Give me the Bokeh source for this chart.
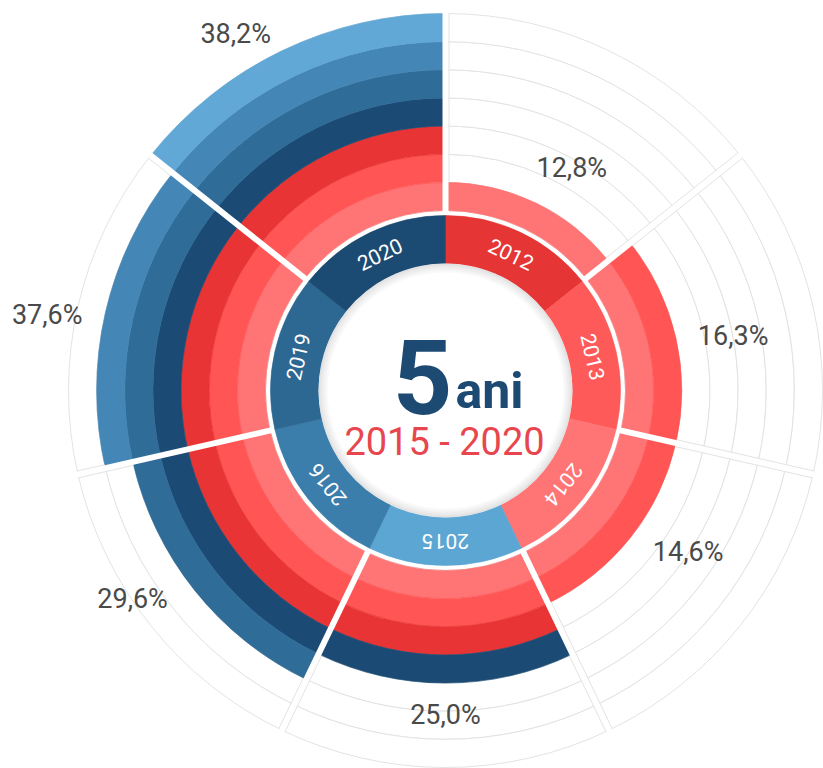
import math
from bokeh.plotting import figure
from bokeh.models import Range1d, ColumnDataSource
from bokeh.embed import file_html
from bokeh.resources import INLINE
from bokeh.core.properties import value

# ---------------- data ----------------
years = ["2012", "2013", "2014", "2015", "2016", "2019", "2020"]
values = [12.8, 16.3, 14.6, 25.0, 29.6, 37.6, 38.2]
levels = [1, 2, 2, 4, 5, 6, 7]          # filled rings per year
year_colors = ["#e53535", "#ff5a5a", "#ff7474", "#5ca6d4", "#3b7dab", "#2d6893", "#1b4a72"]
band_colors = ["#ff7474", "#ff5555", "#e83434", "#1b4b74", "#2f6c98", "#4486b6", "#61a8d6"]
center_big = "5"
center_unit = "ani"
center_period = "2015 - 2020"
labels = [("%.1f%%" % v).replace(".", ",") for v in values]

# ---------------- geometry ----------------
W, H = 823, 768
CX, CY = 445, 378
R_HOLE, R_RING = 127, 175
R0, R_MAX = 180, 377
NB = len(band_colors)
BAND = (R_MAX - R0) / NB
N = len(years)
STEP = 2 * math.pi / N
GRID = "#e3e3e3"

p = figure(width=W, height=H, x_range=Range1d(0, W), y_range=Range1d(0, H),
           output_backend="svg", toolbar_location=None, min_border=0,
           x_axis_location=None, y_axis_location=None)
p.grid.visible = False
p.outline_line_color = None
p.background_fill_color = "white"
p.border_fill_color = "white"


def th(phi):  # clockwise-from-top -> bokeh angle
    return math.pi / 2 - phi


# background grid cells and coloured bars
bg = dict(x=[], y=[], ri=[], ro=[], a0=[], a1=[])
bars = dict(x=[], y=[], ri=[], ro=[], a0=[], a1=[], c=[])
for i in range(N):
    a0, a1 = th((i + 1) * STEP), th(i * STEP)
    for k in range(NB):
        ri, ro = R0 + k * BAND, R0 + (k + 1) * BAND
        bg["x"].append(CX); bg["y"].append(CY); bg["ri"].append(ri); bg["ro"].append(ro)
        bg["a0"].append(a0); bg["a1"].append(a1)
        if k < levels[i]:
            bars["x"].append(CX); bars["y"].append(CY); bars["ri"].append(ri); bars["ro"].append(ro)
            bars["a0"].append(a0); bars["a1"].append(a1); bars["c"].append(band_colors[k])

p.annular_wedge(x="x", y="y", inner_radius="ri", outer_radius="ro", start_angle="a0", end_angle="a1",
                fill_color="white", line_color=GRID, line_width=1, source=ColumnDataSource(bg))
p.annular_wedge(x="x", y="y", inner_radius="ri", outer_radius="ro", start_angle="a0", end_angle="a1",
                fill_color="c", line_color="c", line_width=0.6, source=ColumnDataSource(bars))

# white dividers
dv = dict(x0=[], y0=[], x1=[], y1=[])
for i in range(N):
    phi = i * STEP
    dx, dy = math.sin(phi), math.cos(phi)
    dv["x0"].append(CX + 176 * dx); dv["y0"].append(CY + 176 * dy)
    dv["x1"].append(CX + (R_MAX + 1) * dx); dv["y1"].append(CY + (R_MAX + 1) * dy)
p.segment(x0="x0", y0="y0", x1="x1", y1="y1", line_color="white", line_width=6, source=ColumnDataSource(dv))

# grey edges of the empty parts
ge = dict(x0=[], y0=[], x1=[], y1=[])
OFF = 3.5
for i in range(N):
    r_start = R0 + levels[i] * BAND
    for phi, sgn in ((i * STEP, 1), ((i + 1) * STEP, -1)):
        dx, dy = math.sin(phi), math.cos(phi)
        nx, ny = math.cos(phi) * sgn * OFF, -math.sin(phi) * sgn * OFF
        ge["x0"].append(CX + r_start * dx + nx); ge["y0"].append(CY + r_start * dy + ny)
        ge["x1"].append(CX + R_MAX * dx + nx); ge["y1"].append(CY + R_MAX * dy + ny)
p.segment(x0="x0", y0="y0", x1="x1", y1="y1", line_color=GRID, line_width=1, source=ColumnDataSource(ge))

# year ring
yr = dict(x=[CX] * N, y=[CY] * N, a0=[th((i + 1) * STEP) for i in range(N)],
          a1=[th(i * STEP) for i in range(N)], c=year_colors)
p.annular_wedge(x="x", y="y", inner_radius=R_HOLE, outer_radius=R_RING, start_angle="a0", end_angle="a1",
                fill_color="c", line_color="c", line_width=0.6, source=ColumnDataSource(yr))

# inner disk with soft inner shadow
p.circle(x=[CX], y=[CY], radius=R_HOLE, fill_color="white", line_color=None)
for w in (1.5, 3, 5, 7, 9):
    p.annulus(x=[CX], y=[CY], inner_radius=R_HOLE - w, outer_radius=R_HOLE, fill_color="#000000",
              fill_alpha=0.025, line_color=None)

# year labels along the ring
rm = (R_HOLE + R_RING) / 2
yl = dict(x=[], y=[], t=years, a=[])
for i in range(N):
    phi = (i + 0.5) * STEP
    yl["x"].append(CX + rm * math.sin(phi)); yl["y"].append(CY + rm * math.cos(phi)); yl["a"].append(-phi)
p.text(x="x", y="y", text="t", angle="a", source=ColumnDataSource(yl), text_color="white",
       text_font=value("Roboto"), text_font_size="21px", text_align="center", text_baseline="middle")

# percent labels just outside each bar, nudged toward the horizontal
pl = dict(x=[], y=[], t=labels)
for i in range(N):
    phi = (i + 0.5) * STEP
    phi = phi + math.radians(5) * math.sin(2 * phi)
    s, c = math.sin(phi), math.cos(phi)
    r = R0 + levels[i] * BAND + 21 + 34 * abs(s) + 11 * abs(c)
    x, y = CX + r * s, CY + r * c
    y = min(y, H - 33)
    pl["x"].append(x); pl["y"].append(y)
p.text(x="x", y="y", text="t", source=ColumnDataSource(pl), text_color="#4a4a4a",
       text_font=value("Roboto"), text_font_size="27px", text_align="center", text_baseline="middle")

# center texts
p.text(x=[452], y=[H - 376], text=[center_big], text_color="#1d4a73", text_font=value("Roboto"),
       text_font_style="bold", text_font_size="104px", text_align="right", text_baseline="alphabetic")
p.text(x=[455], y=[H - 390], text=[center_unit], text_color="#1d4a73", text_font=value("Roboto"),
       text_font_style="bold", text_font_size="50px", text_align="left", text_baseline="alphabetic")
p.text(x=[444], y=[H - 441], text=[center_period], text_color="#e8464e", text_font=value("Roboto"),
       text_font_size="38px", text_align="center", text_baseline="alphabetic")

open("out.html", "w").write(file_html(p, INLINE))
